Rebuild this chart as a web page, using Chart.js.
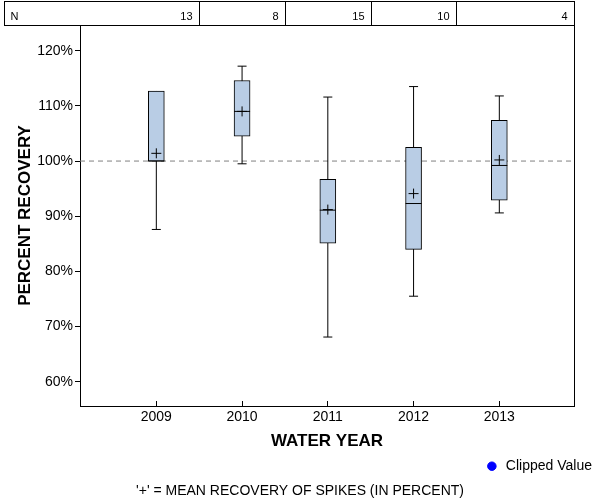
<!DOCTYPE html>
<html><head><meta charset="utf-8">
<script src="https://cdn.jsdelivr.net/npm/chart.js@4.4.1/dist/chart.umd.min.js"></script>
<style>html,body{margin:0;padding:0;background:#fff;}#wrap{position:relative;width:600px;height:500px;}</style>
</head><body><div id="wrap"><canvas id="c" width="600" height="500"></canvas></div>
<script>
// ---- data ----
const years    = [2009, 2010, 2011, 2012, 2013];
const nCounts  = [13, 8, 15, 10, 4];
const minVals  = [87.6, 99.5, 68.1, 75.5, 90.6];
const q1Vals   = [100.0, 104.5, 85.1, 84.0, 92.9];
const medVals  = [100.0, 109.0, 91.1, 92.3, 99.2];
const q3Vals   = [112.7, 114.6, 96.7, 102.5, 107.4];
const maxVals  = [112.7, 117.2, 111.6, 113.5, 111.8];
const meanVals = [101.4, 109.0, 91.2, 94.1, 100.2];
const yTickVals = [60, 70, 80, 90, 100, 110, 120];
const refValue = 100;
const nLabel = 'N';
const xTitle = 'WATER YEAR';
const yTitle = 'PERCENT RECOVERY';
const legendLabel = 'Clipped Value';
const footnote = "'+' = MEAN RECOVERY OF SPIKES (IN PERCENT)";

const X_MIN = 2008.11, X_MAX = 2013.871, Y_MIN = 55.6, Y_MAX = 124.66;
const FONT = '"Liberation Sans", Arial, Helvetica, sans-serif';
Chart.defaults.font.family = FONT;
Chart.defaults.color = '#000';

const whiskerData = years.flatMap((x, i) => [{x, y: minVals[i]}, {x, y: maxVals[i]}, {x, y: null}]);
const capData = years.flatMap((x, i) => {
  const pts = [];
  if (minVals[i] < q1Vals[i]) pts.push({x, y: minVals[i]});
  if (maxVals[i] > q3Vals[i]) pts.push({x, y: maxVals[i]});
  return pts;
});
const boxData = years.map((x, i) => ({x, y: [q1Vals[i], q3Vals[i]]}));
const medData = years.map((x, i) => ({x, y: medVals[i]}));
const meanData = years.map((x, i) => ({x, y: meanVals[i]}));
const refData = [{x: X_MIN, y: refValue}, {x: X_MAX, y: refValue}];

// N table above the plot + inward tick marks on the year axis
const nTablePlugin = {
  id: 'nTable',
  afterDraw(chart) {
    const ctx = chart.ctx, xs = chart.scales.x, area = chart.chartArea;
    const top = 1.5, bottom = Math.round(area.top) + 0.5;
    const left = 4.5, right = Math.round(area.right) + 0.5;
    const bounds = [left];
    for (let i = 0; i < years.length - 1; i++) {
      bounds.push(Math.round(xs.getPixelForValue((years[i] + years[i + 1]) / 2)) + 0.5);
    }
    bounds.push(right);
    ctx.save();
    ctx.fillStyle = '#fff';
    ctx.fillRect(left, top, right - left, bottom - top);
    ctx.strokeStyle = '#000';
    ctx.lineWidth = 1;
    ctx.strokeRect(left, top, right - left, bottom - top);
    ctx.beginPath();
    for (let i = 1; i < bounds.length - 1; i++) {
      ctx.moveTo(bounds[i], top);
      ctx.lineTo(bounds[i], bottom);
    }
    // inward x tick marks
    const yb = Math.round(area.bottom);
    xs.ticks.forEach(t => {
      const px = Math.round(xs.getPixelForValue(t.value) - 0.5) + 0.5;
      ctx.moveTo(px, yb - 5);
      ctx.lineTo(px, yb);
    });
    ctx.stroke();
    ctx.fillStyle = '#000';
    ctx.font = '11px ' + FONT;
    ctx.textBaseline = 'alphabetic';
    ctx.textAlign = 'left';
    ctx.fillText(nLabel, left + 6, 19.5);
    ctx.textAlign = 'right';
    for (let i = 0; i < years.length; i++) {
      ctx.fillText(String(nCounts[i]), bounds[i + 1] - 7, 19.5);
    }
    ctx.restore();
  }
};

new Chart(document.getElementById('c'), {
  type: 'scatter',
  data: {
    datasets: [
      { type: 'line', label: 'ref', data: refData, borderColor: '#808080', borderWidth: 1,
        borderDash: [5, 4], pointRadius: 0, fill: false, order: 6 },
      { type: 'line', label: 'whiskers', data: whiskerData, borderColor: '#000', borderWidth: 1,
        pointRadius: 0, spanGaps: false, fill: false, order: 5 },
      { type: 'scatter', label: 'caps', data: capData, pointStyle: 'line', pointRadius: 4.5,
        borderColor: '#000', pointBorderColor: '#000', borderWidth: 1, pointBorderWidth: 1, order: 4 },
      { type: 'bar', label: 'box', data: boxData, backgroundColor: '#B9CDE5', borderColor: '#000',
        borderWidth: 1, borderSkipped: false, barThickness: 16, order: 3 },
      { type: 'scatter', label: 'median', data: medData, pointStyle: 'line', pointRadius: 8,
        borderColor: '#000', pointBorderColor: '#000', borderWidth: 1, pointBorderWidth: 1, order: 2 },
      { type: 'scatter', label: 'mean', data: meanData, pointStyle: 'cross', pointRadius: 5,
        borderColor: '#000', pointBorderColor: '#000', borderWidth: 1, pointBorderWidth: 1, order: 1 },
      { type: 'scatter', label: legendLabel, data: [], pointStyle: 'circle',
        backgroundColor: '#0000FF', borderColor: '#0000FF', order: 0 }
    ]
  },
  options: {
    responsive: false,
    animation: false,
    events: [],
    layout: { padding: { top: 25, left: 0, right: 0, bottom: 0 } },
    scales: {
      x: {
        type: 'linear', position: 'bottom', min: X_MIN, max: X_MAX, offset: false,
        afterBuildTicks: s => { s.ticks = years.map(v => ({value: v})); },
        afterFit: s => { s.height = 45.2; },
        ticks: { font: { size: 14 }, color: '#000', padding: 3, maxRotation: 0, autoSkip: false,
                 callback: v => String(v) },
        grid: { display: false, offset: false, drawOnChartArea: false, drawTicks: false },
        border: { display: true, color: '#000', width: 1 },
        title: { display: true, text: xTitle, color: '#000', font: { size: 17, weight: 'bold' },
                 padding: { top: 0, bottom: 0 } }
      },
      y: {
        type: 'linear', position: 'left', min: Y_MIN, max: Y_MAX,
        afterBuildTicks: s => { s.ticks = yTickVals.map(v => ({value: v})); },
        afterFit: s => { s.width = 80; },
        ticks: { font: { size: 14 }, color: '#000', padding: 2, callback: v => v + '%' },
        grid: { display: true, offset: false, drawOnChartArea: false, drawTicks: true, tickLength: 5, color: '#000' },
        border: { display: true, color: '#000', width: 1 },
        title: { display: true, text: yTitle, color: '#000', font: { size: 17, weight: 'bold' },
                 padding: { top: 15.5, bottom: 0 } }
      },
      yR: {
        type: 'linear', position: 'right', min: 0, max: 1, display: true,
        afterFit: s => { s.width = 26; },
        ticks: { display: false },
        grid: { display: false, drawTicks: false },
        border: { display: true, color: '#000', width: 1 }
      }
    },
    plugins: {
      tooltip: { enabled: false },
      legend: {
        display: true, position: 'bottom', align: 'end',
        labels: {
          usePointStyle: true, boxWidth: 14, boxHeight: 6, padding: 8,
          font: { size: 14 }, color: '#000',
          filter: item => item.text === legendLabel
        }
      },
      title: {
        display: true, position: 'bottom', text: footnote, color: '#000',
        font: { size: 14, weight: 'normal' }, padding: { top: 0, bottom: 0 }
      }
    }
  },
  plugins: [nTablePlugin]
});
</script>
</body></html>
